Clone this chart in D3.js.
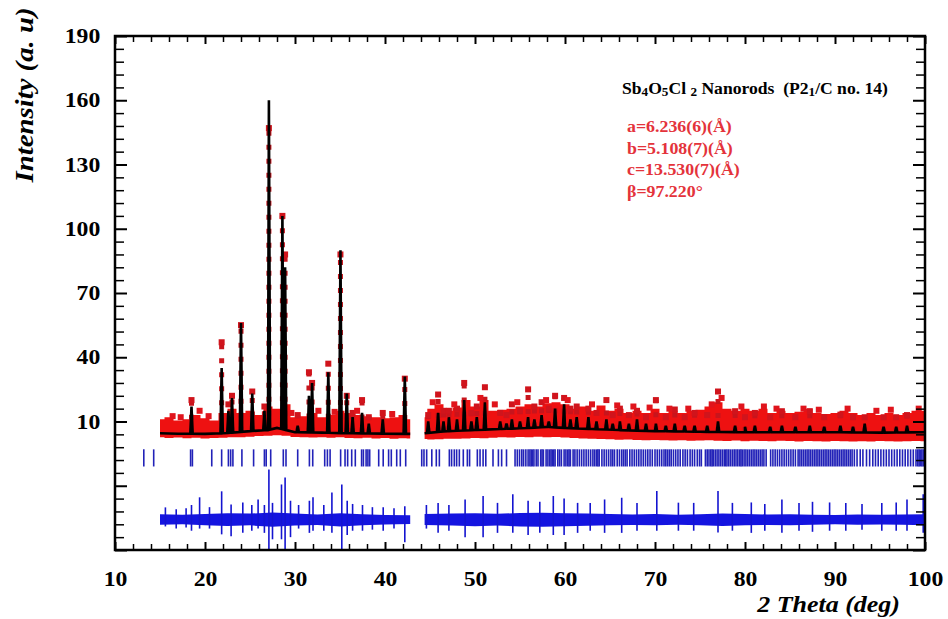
<!DOCTYPE html>
<html lang="en">
<head>
<meta charset="utf-8">
<title>Sb4O5Cl2 Nanorods - Rietveld refinement</title>
<script src="https://d3js.org/d3.v7.min.js"></script>
<style>
  body { margin: 0; background: #fff; }
  svg { font-family: "Liberation Serif", "Times New Roman", serif; font-weight: bold; }
  .axis path { display: none; }
  .axis line { stroke: #000; stroke-width: 2px; }
  .axis.minor line { stroke-width: 1.5px; }
  .axis text { font-size: 21px; font-weight: bold; fill: #000; font-family: "Liberation Serif", serif; }
</style>
</head>
<body>
<script>

// ---- data ----

// observed band (dense red points): 2theta, lower edge, upper edge
var bandX = [15,16,17,18,19,20,21,22,23,24,25,26,27,28,29,30,31,32,33,34,35,36,37,38,39,40,41,42,42.8,
             44.4,45,46,47,48,49,50,51,52,53,54,55,56,57,58,59,60,61,62,63,64,65,66,67,68,69,70,
             71,72,73,74,75,76,77,78,79,80,81,82,83,84,85,86,87,88,89,90,91,92,93,94,95,96,97,98,99,100];
var obsHi = [11,12,10.5,11,13,11.5,10.5,14,16,14,15,13,17,16,18,12,12.5,14,12,13,15,14,13,12.5,12,11.5,12,13,11,
             12,16,18,15,16.5,20,17,20,15,15.5,16,17,18,17,18.5,19,18,16,17,15,17.5,15,16,14,15,14,16,
             14,15,14,15,15.5,17,19,16,15,16,15,16,14,15,14,14.5,16,14,13.5,14,15,14,13,14,13,14,13,14,15,15];
var obsLo = [2.6,2.3,2.5,2.2,2.4,2.1,2.3,2.4,2.6,2.7,2.9,3.2,3.4,3.6,3.3,2.8,2.6,2.5,2.7,2.4,2.6,2.3,2.2,2.4,2.1,2.3,2.0,2.2,2.1,
             1.8,1.6,1.7,1.9,2.0,2.1,2.3,2.2,2.4,2.6,2.5,2.8,2.7,2.9,2.6,2.8,2.5,2.3,2.1,2.0,1.8,1.7,1.5,1.6,1.4,1.3,1.4,
             1.2,1.1,1.3,1.0,1.1,1.2,1.0,0.9,1.1,0.8,1.0,0.9,0.8,1.0,0.9,0.7,0.9,0.8,0.7,0.9,0.8,0.7,0.8,0.7,0.9,0.8,0.7,0.8,0.9,0.8];

// calculated background under the peaks
var bgX = [15,17,20,22,25,27,28,30,33,36,40,42.8, 44.4,47,50,53,56,58,60,63,66,70,75,80,85,90,95,100];
var bgY = [4.5,4.3,4.2,4.5,5.5,6,7,5,4.8,4.5,4.3,4.2, 4.5,5.5,6,6.5,7,7.5,7,6.5,6,5.5,5.2,5,5,5,4.8,5];

// reflections: position, calculated height, observed height
var peakPos  = [18.5,21.85,22.6,23.0,24.0,25.25,26.6,27.1,28.6,28.9,30.3,31.55,31.9,33.7,35.05,35.75,36.4,37.45,38.2,39.75,42.2,
                44.8,45.9,46.5,47.1,48.0,48.8,49.6,50.2,51.1,52.8,53.5,54.1,55.0,55.9,56.6,57.4,58.2,58.9,59.9,60.6,61.3,62.6,63.5,
                64.6,65.3,66.1,67.1,68.0,69.0,70.1,71.2,72.2,73.3,74.4,75.8,77.0,78.9,80.0,81.1,82.8,84.1,85.6,87.2,88.8,90.6,92.0,
                93.3,95.4,96.8,98.0];
var peakCalc = [17,35,15,21,56,23,15,160,106,82,8,22,28,33,90,23,12,14,9,11,31,
                10,14,10,12,11,20,10,12,19,10,9,11,10,12,11,13,10,16,18,11,12,12,10,
                11,9,10,9,11,9,9,8,9,8,8,8,10,8,7.5,8,7.5,8,7.5,8,7.5,8,7.5,
                9,7.5,7.5,8];
var peakObs  = [20,47,18,22,55,24,17,147,106,88,13,33,28,37,88,22,14,20,12,14,30,
                13,22.6,15,15,16,28,14,17,26,14,13,18,15,25,17,19,16,22,21,16,17,16,14,
                20,13,16,13,15,12,20,12,15.6,12,14,13,24,14.8,12,14,12,14.8,12,14.8,12,13.2,12,
                12,12,12,13];

// scattered observed points standing above the band
var dotX = [16.4,17.3,19.4,20.4,29.6,32.6,34.4,36.9,40.8,45.3,47.7,50.6,52.2,54.7,57.9,60.3,63.0,65.8,67.6,69.4,
            71.6,73.7,76.3,77.4,79.6,82.1,83.5,86.5,88.2,91.4,94.6,96.2,99.3];
var dotY = [12.5,12,15,12.5,14,15,14.5,15,13.5,19,18,21,18,19,20,20,18,17.5,17,16.5,
            16,16,18,21,17,17,16,16,15.5,16,15,15.5,16];

// Bragg positions
var braggPos = [13.2,14.3,18.4,18.6,20.75,21.85,22.6,22.85,23.1,24.1,25.4,26.6,26.8,27.3,28.7,29.0,30.3,31.6,31.97,
  33.3,33.6,33.9,35.07,35.56,35.85,36.3,36.7,37.4,37.6,37.9,38.1,38.3,39.3,39.8,40.4,40.7,41.3,41.7,42.3,
  44.08,44.33,44.63,45.2,45.7,46.04,47.15,47.4,47.7,47.96,48.26,48.7,49.15,49.4,50.26,50.56,50.9,51.2,52.0,52.6,52.96,53.5,
  54.45,54.7,54.95,55.2,55.4,55.65,55.9,56.1,56.25,56.4,56.55,56.8,57.0,57.3,57.45,57.6,57.9,58.1,58.3,58.45,58.6,58.75,
  58.9,59.2,59.4,59.6,59.9,60.1,60.3,60.45,60.6,60.9,61.1,61.35,61.6,61.85,62.1,62.35,62.6,62.85,63.1,63.3,63.5,63.65,
  63.8,64.1,64.35,64.6,64.85,65.1,65.3,65.5,65.8,66.05,66.3,66.5,66.7,66.9,67.2,67.45,67.7,67.95,68.2,68.45,68.7,68.95,
  69.2,69.45,69.7,70.0,70.25,70.5,70.75,71.0,71.2,71.4,71.6,71.8,72.05,72.3,72.55,72.8,73.1,73.35,73.6,73.9,74.15,74.4,
  74.7,74.95,75.15,75.6,75.8,76.0,76.2,76.35,76.5,76.7,76.9,77.1,77.3,77.5,77.7,77.85,78.0,78.2,78.4,78.6,78.8,79.0,
  79.2,79.4,79.55,79.7,79.9,80.1,80.3,80.5,80.7,80.9,81.1,81.3,81.5,81.7,81.9,82.1,82.35,82.85,83.1,83.35,83.6,83.85,
  84.1,84.35,84.6,84.85,85.1,85.35,85.6,85.9,86.1,86.3,86.5,86.7,86.9,87.1,87.3,87.5,87.7,87.9,88.1,88.3,88.5,88.7,
  88.9,89.1,89.3,89.5,89.7,89.9,90.1,90.3,90.5,90.7,90.9,91.1,91.3,91.5,91.7,91.9,92.15,92.45,92.8,93.1,93.5,93.85,
  94.2,94.5,94.8,95.1,95.4,95.7,96.0,96.3,96.6,96.9,97.2,97.5,97.8,98.1,98.4,98.7,99.0,99.2,99.35,99.5,99.65,99.8,99.95];

// difference curve: band edges and spikes
var diffX  = [15,17.5,20,22.5,25,27.5,30,32.5,35,37.5,40,42.8,
              44.4,47.5,50,52.5,55,57.5,60,62.5,65,67.5,70,72.5,75,77.5,80,82.5,85,87.5,90,92.5,95,97.5,100];
var diffHi = [-33.3,-33.5,-33.2,-32.8,-33,-32.5,-33,-33.4,-32.8,-33.3,-33.6,-33.8,
              -33.2,-33.0,-32.8,-33.1,-32.7,-32.6,-32.8,-33.0,-33.2,-33.4,-33.2,-33.5,-33.3,-33.0,-33.2,-33.4,-33.3,-33.5,-33.6,-33.4,-33.5,-33.4,-33.3];
var diffLo = [-38.2,-38.0,-38.4,-38.8,-38.5,-39.2,-38.6,-38.3,-39.0,-38.4,-38.1,-37.9,
              -38.3,-38.6,-38.9,-38.6,-39.0,-39.1,-38.9,-38.7,-38.5,-38.3,-38.5,-38.2,-38.4,-38.8,-38.5,-38.3,-38.4,-38.2,-38.0,-38.2,-38.1,-38.2,-38.4];
var spikePos = [15.6,16.8,17.9,18.5,19.4,20.5,21.85,22.9,24.2,25.2,25.9,26.6,27.1,27.5,28.5,28.9,29.5,30.4,31.6,32.0,
                33.2,34.1,35.2,35.8,36.4,37.5,38.6,39.8,41.0,42.2,44.6,45.9,47.1,48.9,50.9,52.5,54.2,55.9,57.2,58.7,
                59.9,61.4,62.8,64.4,66.3,68.0,70.2,72.6,74.3,77.0,78.6,80.7,82.2,84.1,86.0,87.5,89.4,91.2,93.0,95.2,
                96.8,98.0,99.8];
var spikeTop = [-30.1,-31,-30.5,-29,-25.4,-30,-22.6,-28.7,-27.8,-29,-26.4,-29,-12.4,-28,-19.4,-16.1,-27,-29,-27,-25.4,
                -29,-23.1,-19.4,-27,-28.5,-29,-30,-30,-30.5,-29.6,-29,-28,-29,-26.4,-24.8,-28,-24,-27,-27.5,-24.8,
                -26,-28,-28,-26.4,-25.6,-28,-22.5,-27.9,-28,-22.5,-28,-27.8,-28.5,-26.4,-28,-27.5,-27.8,-28,-28.5,-28,
                -27.8,-26.4,-24];
var spikeBot = [-39,-40,-39.5,-41,-40,-40,-42.7,-43.6,-42,-41,-40,-42,-50,-45,-45,-50,-44,-40,-42,-41,
                -41,-42,-50,-43,-41,-41,-40.5,-41,-40,-46.4,-40,-42,-41,-44,-44,-42,-42,-43,-42,-43,
                -43,-42,-41,-42,-42,-41,-41,-41,-41,-41.8,-41,-42,-41,-42,-41,-41.5,-41,-41,-40.5,-41,
                -41,-41,-42];

// ---- chart ----
var w = 948, h = 619;
var gap = 43.5;

var svg = d3.select("body").append("svg")
  .attr("width", w)
  .attr("height", h);

var x = d3.scaleLinear().domain([10, 100]).range([115, 925]);
var y = d3.scaleLinear().domain([-50, 190]).range([550, 36]);
var bg = d3.scaleLinear().domain(bgX).range(bgY);

function segments(pts) {
  return [pts.filter(function(p) { return p[0] < gap; }),
          pts.filter(function(p) { return p[0] > gap; })];
}

var plot = svg.append("g");

// observed band
var band = bandX.map(function(v, i) { return [v, obsLo[i], obsHi[i]]; });
var area = d3.area()
  .x(function(d) { return x(d[0]); })
  .y0(function(d) { return y(d[1]); })
  .y1(function(d) { return y(d[2]); })
  .curve(d3.curveStep);
plot.selectAll(".obsband")
  .data(segments(band))
  .enter().append("path")
  .attr("d", area)
  .attr("fill", "#ee1111");

// observed points along the peaks
plot.selectAll(".obscol")
  .data(peakPos)
  .enter().append("line")
  .attr("x1", function(d) { return x(d); })
  .attr("x2", function(d) { return x(d); })
  .attr("y1", function(d) { return y(bg(d)); })
  .attr("y2", function(d, i) { return y(peakObs[i]); })
  .attr("stroke", "#c8141c")
  .attr("stroke-width", 5)
  .attr("stroke-dasharray", "5 9");

plot.selectAll(".obstop")
  .data(peakPos)
  .enter().append("rect")
  .attr("x", function(d) { return x(d) - 3; })
  .attr("y", function(d, i) { return y(peakObs[i]) - 3; })
  .attr("width", 6)
  .attr("height", 6)
  .attr("fill", "#d0141c");

plot.selectAll(".obsdot")
  .data(dotX)
  .enter().append("rect")
  .attr("x", function(d) { return x(d) - 3; })
  .attr("y", function(d, i) { return y(dotY[i]) - 3; })
  .attr("width", 6)
  .attr("height", 6)
  .attr("fill", "#e0141c");

// calculated profile
var hw = 0.13;
var calc = bgX.map(function(v, i) { return [v, bgY[i]]; });
peakPos.forEach(function(p, i) {
  calc.push([p - hw, bg(p - hw)], [p, peakCalc[i]], [p + hw, bg(p + hw)]);
});
calc.sort(function(a, b) { return a[0] - b[0]; });

var line = d3.line()
  .x(function(d) { return x(d[0]); })
  .y(function(d) { return y(d[1]); });
plot.selectAll(".calc")
  .data(segments(calc))
  .enter().append("path")
  .attr("d", line)
  .attr("fill", "none")
  .attr("stroke", "#000")
  .attr("stroke-width", 2.6)
  .attr("stroke-linejoin", "miter");

// Bragg ticks
plot.selectAll(".bragg")
  .data(braggPos)
  .enter().append("line")
  .attr("x1", function(d) { return x(d); })
  .attr("x2", function(d) { return x(d); })
  .attr("y1", y(-3))
  .attr("y2", y(-11))
  .attr("stroke", "#2222b8")
  .attr("stroke-width", 1.6);

// difference curve
var dband = diffX.map(function(v, i) { return [v, diffLo[i], diffHi[i]]; });
var darea = d3.area()
  .x(function(d) { return x(d[0]); })
  .y0(function(d) { return y(d[1]); })
  .y1(function(d) { return y(d[2]); });
plot.selectAll(".diffband")
  .data(segments(dband))
  .enter().append("path")
  .attr("d", darea)
  .attr("fill", "#1414e0");

plot.selectAll(".spike")
  .data(spikePos)
  .enter().append("line")
  .attr("x1", function(d) { return x(d); })
  .attr("x2", function(d) { return x(d); })
  .attr("y1", function(d, i) { return y(spikeTop[i]); })
  .attr("y2", function(d, i) { return y(spikeBot[i]); })
  .attr("stroke", "#1414d0")
  .attr("stroke-width", 1.6);

// axes
var yMajor = d3.range(-50, 191, 30);
var yMinor = d3.range(-50, 191, 6).filter(function(v) { return (v + 50) % 30 !== 0; });
var xMajor = d3.range(10, 101, 10);
var xMinor = d3.range(10, 101, 2).filter(function(v) { return v % 10 !== 0; });

var yAxis = svg.append("g").attr("class", "axis")
  .attr("transform", "translate(115,0)")
  .call(d3.axisLeft(y).tickValues(yMajor).tickSizeInner(-12).tickSizeOuter(0).tickPadding(13)
    .tickFormat(function(d) { return d >= 10 ? d : ""; }));
yAxis.selectAll("text").attr("transform", "scale(1.13,1)");
svg.append("g").attr("class", "axis minor")
  .attr("transform", "translate(115,0)")
  .call(d3.axisLeft(y).tickValues(yMinor).tickSize(-9).tickFormat(""));
svg.append("g").attr("class", "axis")
  .attr("transform", "translate(925,0)")
  .call(d3.axisRight(y).tickValues(yMajor).tickSize(-12).tickFormat(""));
svg.append("g").attr("class", "axis minor")
  .attr("transform", "translate(925,0)")
  .call(d3.axisRight(y).tickValues(yMinor).tickSize(-9).tickFormat(""));

var xAxis = svg.append("g").attr("class", "axis")
  .attr("transform", "translate(0,550)")
  .call(d3.axisBottom(x).tickValues(xMajor).tickSizeInner(-8).tickSizeOuter(0).tickPadding(21));
xAxis.selectAll("text").attr("transform", "scale(1.13,1)");
svg.append("g").attr("class", "axis minor")
  .attr("transform", "translate(0,550)")
  .call(d3.axisBottom(x).tickValues(xMinor).tickSize(-6).tickFormat(""));
svg.append("g").attr("class", "axis")
  .attr("transform", "translate(0,36)")
  .call(d3.axisTop(x).tickValues(xMajor).tickSize(-8).tickFormat(""));
svg.append("g").attr("class", "axis minor")
  .attr("transform", "translate(0,36)")
  .call(d3.axisTop(x).tickValues(xMinor).tickSize(-6).tickFormat(""));

svg.append("rect")
  .attr("x", 115).attr("y", 36)
  .attr("width", 810).attr("height", 514)
  .attr("fill", "none")
  .attr("stroke", "#000")
  .attr("stroke-width", 2.5);

// axis titles
svg.append("text")
  .attr("transform", "translate(33,95) rotate(-90) scale(1.15,1)")
  .attr("text-anchor", "middle")
  .style("font-size", "25px")
  .style("font-style", "italic")
  .text("Intensity (a. u)");

svg.append("text")
  .attr("transform", "translate(900,612) scale(1.13,1)")
  .attr("text-anchor", "end")
  .style("font-size", "23px")
  .style("font-style", "italic")
  .text("2 Theta (deg)");

// legend
var title = svg.append("text")
  .attr("transform", "translate(622,94) scale(1.1,1)")
  .style("font-size", "16px");
[["Sb", false], ["4", true], ["O", false], ["5", true], ["Cl ", false], ["2", true],
 [" Nanorods  (P2", false], ["1", true], ["/C no. 14)", false]].forEach(function(t, i, all) {
  var prevSub = i > 0 && all[i - 1][1];
  title.append("tspan")
    .attr("dy", t[1] ? 2 : (prevSub ? -2 : 0))
    .style("font-size", t[1] ? "12px" : "16px")
    .style("white-space", "pre")
    .text(t[0]);
});

var cell = ["a=6.236(6)(\u00C5)", "b=5.108(7)(\u00C5)", "c=13.530(7)(\u00C5)", "\u03B2=97.220\u00B0"];
svg.selectAll(".cell")
  .data(cell)
  .enter().append("text")
  .attr("transform", function(d, i) { return "translate(627," + (132 + i * 21.5) + ") scale(1.05,1)"; })
  .attr("fill", "#e4333b")
  .style("font-size", "17px")
  .text(function(d) { return d; });

</script>
</body>
</html>
